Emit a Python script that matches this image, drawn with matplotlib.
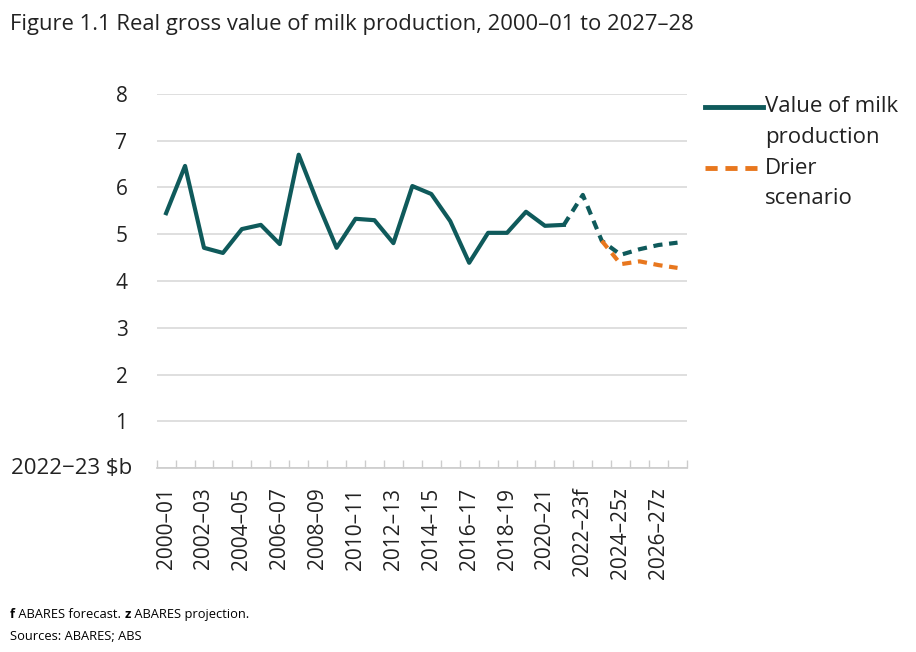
import numpy as np
import matplotlib.pyplot as plt
import matplotlib.ticker as ticker
from matplotlib.lines import Line2D

plt.rcParams['font.family'] = ['Open Sans', 'DejaVu Sans']

# financial years 2000-01 .. 2027-28
years = ['2000–01', '2001–02', '2002–03', '2003–04', '2004–05', '2005–06',
         '2006–07', '2007–08', '2008–09', '2009–10', '2010–11', '2011–12',
         '2012–13', '2013–14', '2014–15', '2015–16', '2016–17', '2017–18',
         '2018–19', '2019–20', '2020–21', '2021–22', '2022–23f', '2023–24f',
         '2024–25z', '2025–26z', '2026–27z', '2027–28z']
# real gross value, 2022-23 $b
value = [5.45, 6.46, 4.71, 4.60, 5.11, 5.20, 4.79, 6.70, 5.67, 4.71,
         5.33, 5.30, 4.81, 6.03, 5.86, 5.28, 4.39, 5.03, 5.03, 5.48,
         5.18, 5.20, 5.84, 4.86, 4.56, 4.68, 4.77, 4.82]
# drier scenario from 2023-24
drier = [4.86, 4.36, 4.42, 4.34, 4.28]
last_actual = 21   # index of 2021-22
drier_start = 23

teal = '#0f5a5b'
orange = '#e8771e'
dash = (0, (2.2, 1.6))

x = np.arange(len(years))

fig = plt.figure(figsize=(9.16, 6.52), dpi=100)
ax = fig.add_axes([0.171, 0.282, 0.579, 0.574])

ax.plot(x[:last_actual + 1], value[:last_actual + 1], color=teal, lw=3)
ax.plot(x[last_actual:], value[last_actual:], color=teal, lw=3, ls=dash)
ax.plot(x[drier_start:], drier, color=orange, lw=3, ls=dash)

ax.set_xlim(-0.5, len(years) - 0.5)
ax.set_ylim(0, 8)

# y axis
ax.set_yticks(range(0, 9))
ax.set_yticklabels([''] + [str(i) for i in range(1, 9)])
ax.tick_params(axis='y', length=0, pad=21, labelsize=15, labelcolor='#222222')
ax.grid(axis='y', color='#d9d9d9', lw=1.2)
ax.set_axisbelow(True)
fig.text(0.144, 0.282, '2022−23 $b', fontsize=16, color='#222222',
         ha='right', va='center')

# x axis
ax.set_xticks(x[::2])
ax.set_xticklabels(years[::2], rotation=90)
ax.xaxis.set_minor_locator(ticker.FixedLocator(np.arange(-0.5, len(years), 1)))
ax.tick_params(axis='x', which='major', length=0, pad=14, labelsize=15,
               labelcolor='#222222')
ax.tick_params(axis='x', which='minor', direction='in', length=6,
               color='#cccccc', width=1)

for s in ['top', 'right', 'left']:
    ax.spines[s].set_visible(False)
ax.spines['bottom'].set_color('#cccccc')
ax.spines['bottom'].set_linewidth(1.2)

# legend, handle aligned with first text line
fig.add_artist(Line2D([0.770, 0.833], [1 - 107 / 652] * 2, color=teal, lw=3.5,
                      transform=fig.transFigure))
fig.add_artist(Line2D([0.770, 0.828], [1 - 168 / 652] * 2, color=orange, lw=3.5,
                      ls=(0, (2.5, 1.6)), transform=fig.transFigure))
fig.text(0.835, 1 - 107 / 652, 'Value of milk', fontsize=16, color='#222222',
         va='center')
fig.text(0.835, 1 - 137 / 652, 'production', fontsize=16, color='#222222',
         va='center')
fig.text(0.835, 1 - 168 / 652, 'Drier', fontsize=16, color='#222222',
         va='center')
fig.text(0.835, 1 - 199 / 652, 'scenario', fontsize=16, color='#222222',
         va='center')

fig.text(0.011, 0.962, 'Figure 1.1 Real gross value of milk production, 2000–01 to 2027–28',
         fontsize=15.8, color='#222222', va='center')

f_txt = fig.text(0.011, 0.057, 'f', fontsize=9.3, fontweight='bold', va='center')
fz = ax.annotate(' ABARES forecast. ', xy=(1, 0), xycoords=f_txt, fontsize=9.3,
                 va='bottom')
z_txt = ax.annotate('z', xy=(1, 0), xycoords=fz, fontsize=9.3, fontweight='bold',
                    va='bottom')
ax.annotate(' ABARES projection.', xy=(1, 0), xycoords=z_txt, fontsize=9.3,
            va='bottom')
fig.text(0.011, 0.024, 'Sources: ABARES; ABS', fontsize=9.3, va='center')

fig.savefig('out.png', dpi=100)
